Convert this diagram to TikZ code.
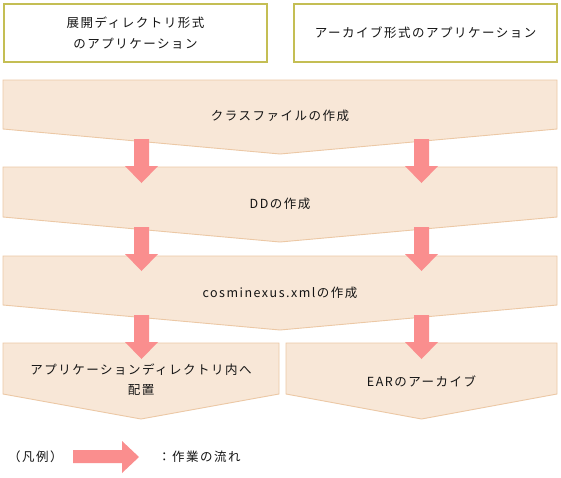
\documentclass[tikz,border=0pt]{standalone}
\usepackage{fontspec}
\setmainfont{Noto Sans CJK JP}[LetterSpace=12]
\usetikzlibrary{arrows.meta,positioning}
\definecolor{chevronfill}{RGB}{248,231,215}
\definecolor{chevronline}{RGB}{236,200,165}
\definecolor{flowpink}{RGB}{250,142,142}
\definecolor{headolive}{RGB}{196,190,84}
\definecolor{labeltext}{RGB}{20,20,20}

\tikzset{
  headbox/.style={draw=headolive,line width=2.4pt,fill=white,
    minimum width=263pt,minimum height=58pt,inner sep=0pt,
    align=center,text=labeltext,font=\fontsize{12.5}{21}\selectfont},
  chevron/.style={fill=chevronfill,draw=chevronline,line width=0.9pt},
  steplabel/.style={align=center,text=labeltext,inner sep=0pt,
    font=\fontsize{12.5}{20}\selectfont},
  flowarrow/.style={fill=flowpink},
}
% chevron: left x, right x, top y, side y, tip y
\newcommand{\chevron}[5]{%
  \draw[chevron] (#1,#3) -- (#2,#3) -- (#2,#4) -- ({(#1+#2)/2},#5)
    -- (#1,#4) -- cycle;}
% down arrow: centre x, top y, tip y
\newcommand{\flowdown}[3]{%
  \fill[flowarrow] (#1-7.5,#2) -- (#1+7.5,#2) -- (#1+7.5,#3-17)
    -- (#1+16.5,#3-17) -- (#1,#3) -- (#1-16.5,#3-17)
    -- (#1-7.5,#3-17) -- cycle;}

\begin{document}
\begin{tikzpicture}[>=Latex,x=1pt,y=-1pt]
 \useasboundingbox[fill=white] (0,0) rectangle (561,477);
 % application forms
 \node[headbox] (expanded) at (135.5,33) {展開ディレクトリ形式\\のアプリケーション};
 \node[headbox] (archived) at (425.5,33) {アーカイブ形式のアプリケーション};
 % steps
 \chevron{3}{557}{80}{129}{154}
 \chevron{3}{557}{167}{217}{242}
 \chevron{3}{557}{256}{305}{330}
 \chevron{3}{279}{343}{394}{419}
 \chevron{286}{557}{343}{394}{419}
 \node[steplabel] (classfile) at (280,116) {クラスファイルの作成};
 \node[steplabel] (dd) at (280,204) {DDの作成};
 \node[steplabel] (cosmi) at (280,293) {cosminexus.xmlの作成};
 \node[steplabel] (deploy) at (141,380) {アプリケーションディレクトリ内へ\\配置};
 \node[steplabel] (ear) at (421.5,381) {EARのアーカイブ};
 % flow
 \foreach \fx in {141.5,421.5}{
   \flowdown{\fx}{139}{183}
   \flowdown{\fx}{227}{271}
   \flowdown{\fx}{315}{359}
 }
 % legend
 \node[steplabel,anchor=west] (legend) at (8,457) {（凡例）};
 \fill[flowarrow] (73,450) -- (122,450) -- (122,441) -- (139,457)
   -- (122,473) -- (122,463) -- (73,463) -- cycle;
 \node[steplabel,anchor=west] (flowkey) at (158,457) {：作業の流れ};
\end{tikzpicture}
\end{document}
